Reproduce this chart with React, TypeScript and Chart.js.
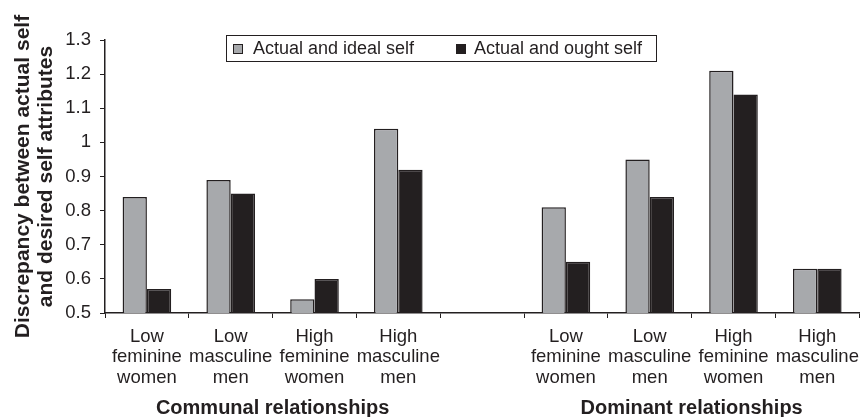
import React, { useEffect, useRef } from "react";
import { Chart, registerables } from "chart.js";

Chart.register(...registerables);

const categories: string[][] = [
  ["Low", "feminine", "women"],
  ["Low", "masculine", "men"],
  ["High", "feminine", "women"],
  ["High", "masculine", "men"],
  [""],
  ["Low", "feminine", "women"],
  ["Low", "masculine", "men"],
  ["High", "feminine", "women"],
  ["High", "masculine", "men"],
];
const idealSelf: (number | null)[] = [0.84, 0.89, 0.54, 1.04, null, 0.81, 0.95, 1.21, 0.63];
const oughtSelf: (number | null)[] = [0.57, 0.85, 0.6, 0.92, null, 0.65, 0.84, 1.14, 0.63];
const seriesNames = ["Actual and ideal self", "Actual and ought self"];
const groupLabels = ["Communal relationships", "Dominant relationships"];
const yTitle = ["Discrepancy between actual self", "and desired self attributes"];

const INK = "#231f20";
const GRAY = "#a7a9ac";
const FONT = "'Liberation Sans', Arial, sans-serif";

export default function App() {
  const ref = useRef<HTMLCanvasElement | null>(null);
  useEffect(() => {
    document.body.style.margin = "0";
    const canvas = ref.current!;
    const extras = {
      id: "extras",
      afterDraw(chart: any) {
        const ctx = chart.ctx as CanvasRenderingContext2D;
        const x = chart.scales.x;
        ctx.save();
        ctx.fillStyle = INK;
        ctx.font = `bold 20px ${FONT}`;
        ctx.textAlign = "center";
        ctx.textBaseline = "middle";
        const c1 = (x.getPixelForTick(1) + x.getPixelForTick(2)) / 2;
        const c2 = (x.getPixelForTick(6) + x.getPixelForTick(7)) / 2;
        ctx.fillText(groupLabels[0], c1, 408);
        ctx.fillText(groupLabels[1], c2, 408);
        const bx = 226, by = 35, bw = 430, bh = 26;
        ctx.fillStyle = "#ffffff";
        ctx.fillRect(bx, by, bw, bh);
        ctx.strokeStyle = INK;
        ctx.lineWidth = 1;
        ctx.strokeRect(bx + 0.5, by + 0.5, bw, bh);
        ctx.font = `18px ${FONT}`;
        ctx.textAlign = "left";
        const cy = by + bh / 2 + 1;
        const items = [
          { x: 233, tx: 253, color: GRAY },
          { x: 456, tx: 474, color: INK },
        ];
        items.forEach((it, i) => {
          ctx.fillStyle = it.color;
          ctx.fillRect(it.x, cy - 5, 10, 10);
          ctx.strokeStyle = INK;
          ctx.strokeRect(it.x + 0.5, cy - 4.5, 9, 9);
          ctx.fillStyle = INK;
          ctx.fillText(seriesNames[i], it.tx, cy);
        });
        ctx.restore();
      },
    };
    const chart = new Chart(canvas, {
      type: "bar",
      data: {
        labels: categories,
        datasets: [
          {
            label: seriesNames[0],
            data: idealSelf,
            backgroundColor: GRAY,
            borderColor: INK,
            borderWidth: 1.5,
            categoryPercentage: 0.58,
            barPercentage: 1,
          },
          {
            label: seriesNames[1],
            data: oughtSelf,
            backgroundColor: INK,
            borderColor: INK,
            borderWidth: 1.5,
            categoryPercentage: 0.58,
            barPercentage: 1,
          },
        ],
      },
      options: {
        responsive: false,
        animation: false,
        layout: { padding: { top: 40, right: 1, bottom: 0, left: 0 } },
        plugins: { legend: { display: false }, tooltip: { enabled: false } },
        scales: {
          x: {
            afterFit(scale: any) {
              scale.height = 104;
            },
            grid: {
              offset: true,
              drawOnChartArea: false,
              drawTicks: true,
              tickLength: 5,
              color: INK,
              lineWidth: 1,
            },
            border: { display: true, color: INK, width: 1.5 },
            ticks: {
              color: INK,
              font: { family: FONT, size: 18.5, lineHeight: 1.13 },
              padding: 8,
              maxRotation: 0,
              autoSkip: false,
            },
          },
          y: {
            min: 0.5,
            max: 1.3,
            afterFit(scale: any) {
              scale.width = 105;
            },
            grid: {
              drawOnChartArea: false,
              drawTicks: true,
              tickLength: 5,
              color: INK,
              lineWidth: 1,
            },
            border: { display: true, color: INK, width: 1.5 },
            ticks: {
              stepSize: 0.1,
              color: INK,
              padding: 9,
              font: { family: FONT, size: 18.5 },
              callback: (v: any) => {
                const n = Math.round(Number(v) * 10) / 10;
                return String(n);
              },
            },
            title: {
              display: true,
              text: yTitle,
              color: INK,
              font: { family: FONT, size: 21, weight: "bold", lineHeight: 1.1 },
              padding: { top: 12, bottom: 0 },
            },
          },
        },
      },
      plugins: [extras],
    });
    return () => chart.destroy();
  }, []);
  return <canvas ref={ref} width={867} height={417} style={{ display: "block" }} />;
}
